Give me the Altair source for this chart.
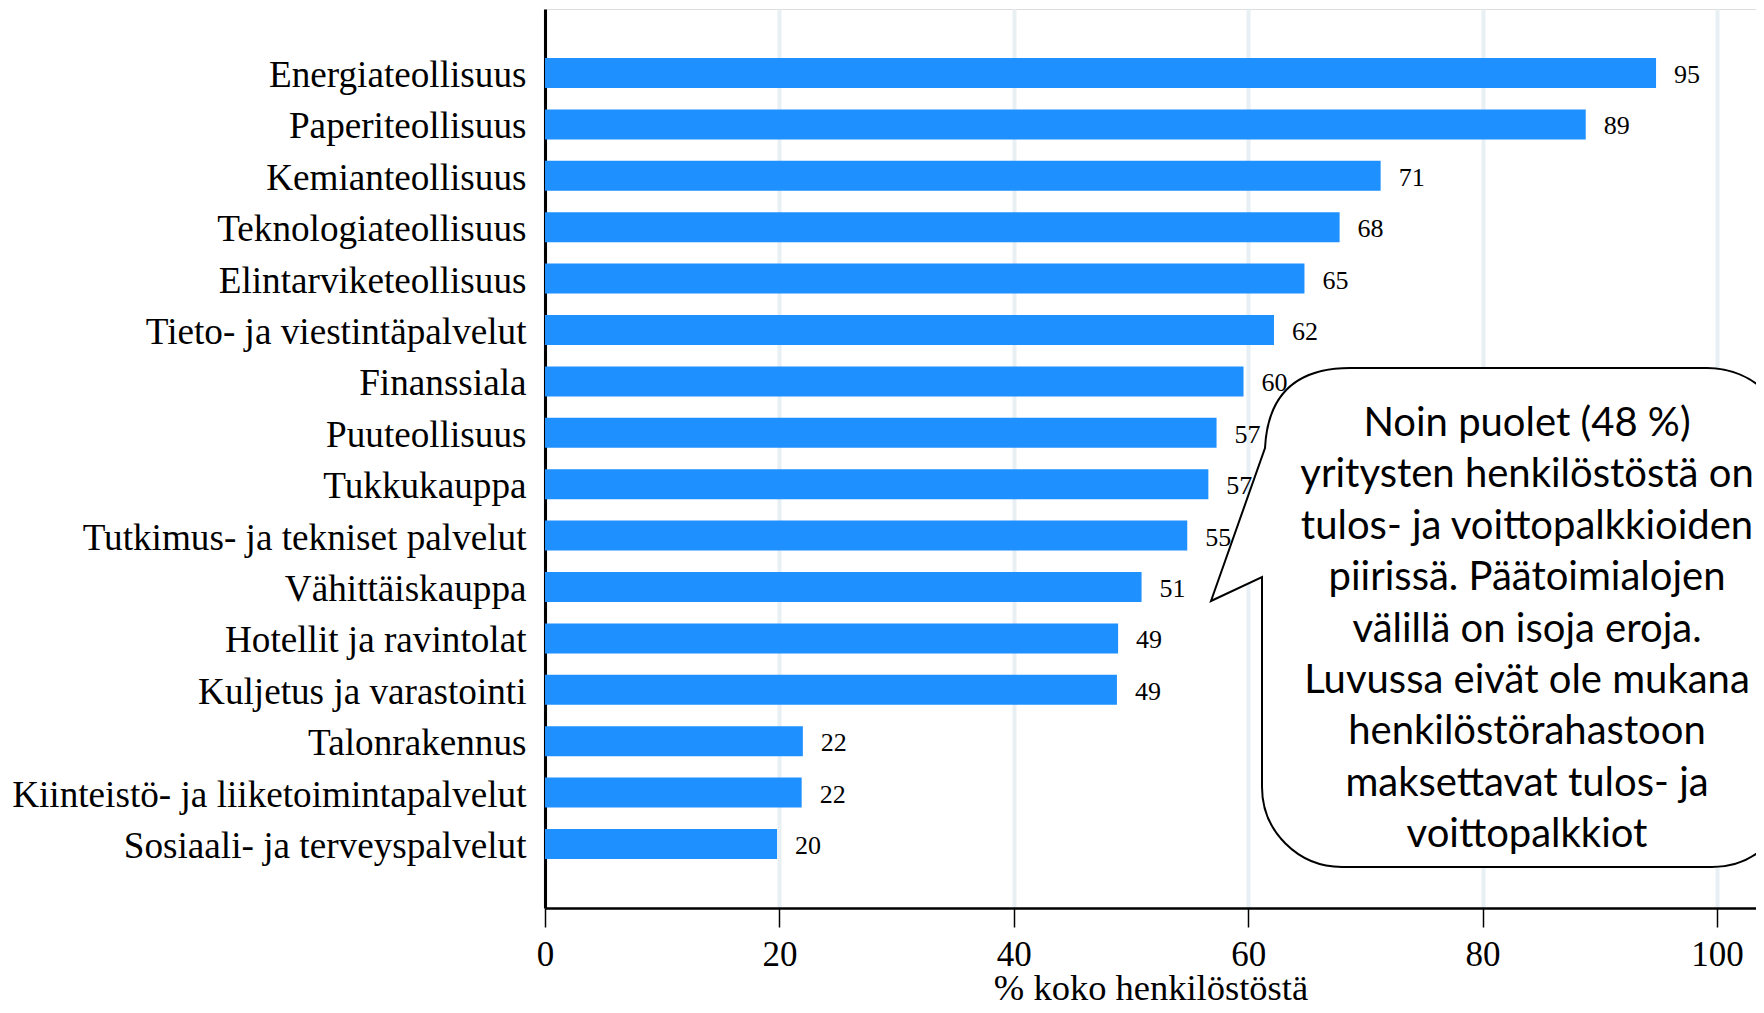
import altair as alt
import pandas as pd

categories = [
    "Energiateollisuus",
    "Paperiteollisuus",
    "Kemianteollisuus",
    "Teknologiateollisuus",
    "Elintarviketeollisuus",
    "Tieto- ja viestintäpalvelut",
    "Finanssiala",
    "Puuteollisuus",
    "Tukkukauppa\u00a0",
    "Tutkimus- ja tekniset palvelut",
    "Vähittäiskauppa\u00a0",
    "Hotellit ja ravintolat",
    "Kuljetus ja varastointi",
    "Talonrakennus",
    "Kiinteistö- ja liiketoimintapalvelut",
    "Sosiaali- ja terveyspalvelut",
]
values = [94.8, 88.8, 71.3, 67.8, 64.8, 62.2, 59.6, 57.3, 56.6, 54.8, 50.9, 48.9, 48.8, 22.0, 21.9, 19.8]
x_ticks = [0, 20, 40, 60, 80, 100]
x_title = "% koko henkilöstöstä"
callout_lines = [
    "Noin puolet (48 %)",
    "yritysten henkilöstöstä on",
    "tulos- ja voittopalkkioiden",
    "piirissä. Päätoimialojen",
    "välillä on isoja eroja.",
    "Luvussa eivät ole mukana",
    "henkilöstörahastoon",
    "maksettavat tulos- ja",
    "voittopalkkiot",
]

df = pd.DataFrame({"cat": categories, "val": values})

W, H = 1211, 899
x_scale = alt.Scale(domain=[0, W / 11.72], nice=False, zero=True)
y_scale = alt.Scale(domain=categories, paddingInner=0.416, paddingOuter=0.953)

base = alt.Chart(df)

bars = base.mark_bar(color="#1E90FF").encode(
    x=alt.X(
        "val:Q",
        scale=x_scale,
        axis=alt.Axis(
            values=x_ticks,
            title=x_title,
            grid=True,
            gridColor="#e8f0f3",
            gridWidth=4,
            domainColor="black",
            domainWidth=2.5,
            tickColor="black",
            tickWidth=1.5,
            tickSize=19,
            labelFont="Liberation Serif",
            labelFontSize=35,
            labelColor="black",
            labelPadding=10,
            labelFlush=False,
            titleFont="Liberation Serif",
            titleFontSize=36.5,
            titleFontWeight="normal",
            titleColor="black",
            titleBaseline="alphabetic",
            titleY=91,
        ),
    ),
    y=alt.Y(
        "cat:N",
        sort=categories,
        scale=y_scale,
        axis=alt.Axis(
            title=None,
            ticks=False,
            grid=False,
            domainColor="black",
            domainWidth=3,
            labelFont="Liberation Serif",
            labelFontSize=37.2,
            labelColor="black",
            labelPadding=19,
            labelOffset=3,
            labelLimit=0,
        ),
    ),
)

labels = base.mark_text(
    align="left", baseline="middle", dx=18, dy=2, font="Liberation Serif", fontSize=26, color="black"
).encode(
    x=alt.X("val:Q", scale=x_scale),
    y=alt.Y("cat:N", sort=categories, scale=y_scale),
    text=alt.Text("val:Q", format=".0f"),
)

bubble_path = (
    "M 805 359 L 1162 359 A 85 85 0 0 1 1247 444 L 1247 778 "
    "A 80 80 0 0 1 1167 858 L 797 858 A 80 80 0 0 1 717 778 "
    "L 717 568 L 666 592 L 720 439 Q 724 359 805 359 Z"
)

bubble = alt.Chart(pd.DataFrame({"k": [0]})).mark_point(
    shape=bubble_path,
    size=4,
    filled=True,
    fill="white",
    stroke="black",
    strokeWidth=2,
    opacity=1,
    clip=True,
).encode(x=alt.value(0), y=alt.value(0))

callout = alt.Chart(pd.DataFrame({"k": [0]})).mark_text(
    text=callout_lines,
    font="Lato",
    fontSize=40,
    lineHeight=51.4,
    align="center",
    baseline="middle",
    color="black",
).encode(x=alt.value(982), y=alt.value(415))

chart = (
    alt.layer(bars, labels, bubble, callout)
    .properties(
        width=W,
        height=H,
        autosize=alt.AutoSizeParams(type="none"),
        padding={"left": 537, "top": 1, "right": 0, "bottom": 97},
    )
    .configure_view(stroke="transparent", strokeWidth=0)
    .configure(background="white")
)

chart.save("out.html", embed_options={"renderer": "svg", "actions": False})
